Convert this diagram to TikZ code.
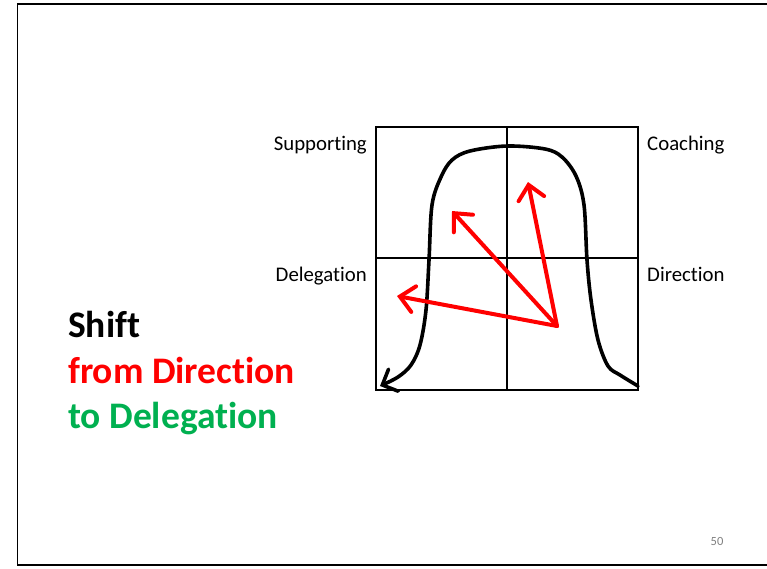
\documentclass[tikz,border=0pt]{standalone}
\usepackage{fontspec}
\setmainfont{Carlito}[Ligatures={NoCommon}]
\usetikzlibrary{arrows.meta}
\definecolor{offgreen}{HTML}{00B050}
\tikzset{
  grid/.style={line width=1.6pt, black},
  quadlabel/.style={font=\fontsize{20.8}{24}\selectfont, inner sep=0pt},
  bigtext/.style={font=\fontsize{37.5}{45}\selectfont\bfseries, inner sep=0pt, anchor=base west},
  redarrow/.style={red, line width=4pt, line cap=round, -{Straight Barb[length=14pt,width=26pt,line cap=round]}},
  bellcurve/.style={black, line width=3.6pt, line cap=round, -{Straight Barb[length=12pt,width=24pt,line cap=round]}},
}
\begin{document}
\begin{tikzpicture}[x=1pt,y=-1pt]
\useasboundingbox (0,0) rectangle (767,568);
% frame
\draw[line width=1.6pt] (800,4) -- (17.5,4) -- (17.5,565) -- (800,565);
% grid
\coordinate (TL) at (376,127);
\coordinate (BR) at (638,390);
\draw[grid] (TL) rectangle (BR);
\draw[grid] (507,127) -- (507,390);
\draw[grid] (376,258) -- (638,258);
% labels
\node[quadlabel, anchor=base east] (sup) at (367,150) {Supporting};
\node[quadlabel, anchor=base west] (coa) at (647,150) {Coaching};
\node[quadlabel, anchor=base east] (del) at (367,281) {Delegation};
\node[quadlabel, anchor=base west] (dir) at (647,281) {Direction};
% bell curve
\draw[bellcurve] plot[smooth, tension=0.55] coordinates {
  (638,386) (620,375) (608,366) (598,340) (591,300) (587,260) (584,205) (576,176) (562,157) (545,149) (507,146)
  (470,151) (452,160) (441,177) (432,205) (429,260) (426,310) (420,345) (411,365) (398,377) (380,386)};
% red arrows
\coordinate (o) at (557,326);
\coordinate (a1) at (452,211);
\coordinate (a2) at (528,182);
\coordinate (a3) at (397,296);
\draw[redarrow] (o) -- (a1);
\draw[redarrow] (o) -- (a2);
\draw[redarrow] (o) -- (a3);
% text
\node[bigtext] (t1) at (68,337) {Shift};
\node[bigtext, text=red] (t2) at (68,383) {from Direction};
\node[bigtext, text=offgreen] (t3) at (68,428) {to Delegation};
\node[font=\fontsize{12.5}{15}\selectfont, text=gray, anchor=base] (pg) at (717,545) {50};
\end{tikzpicture}
\end{document}
